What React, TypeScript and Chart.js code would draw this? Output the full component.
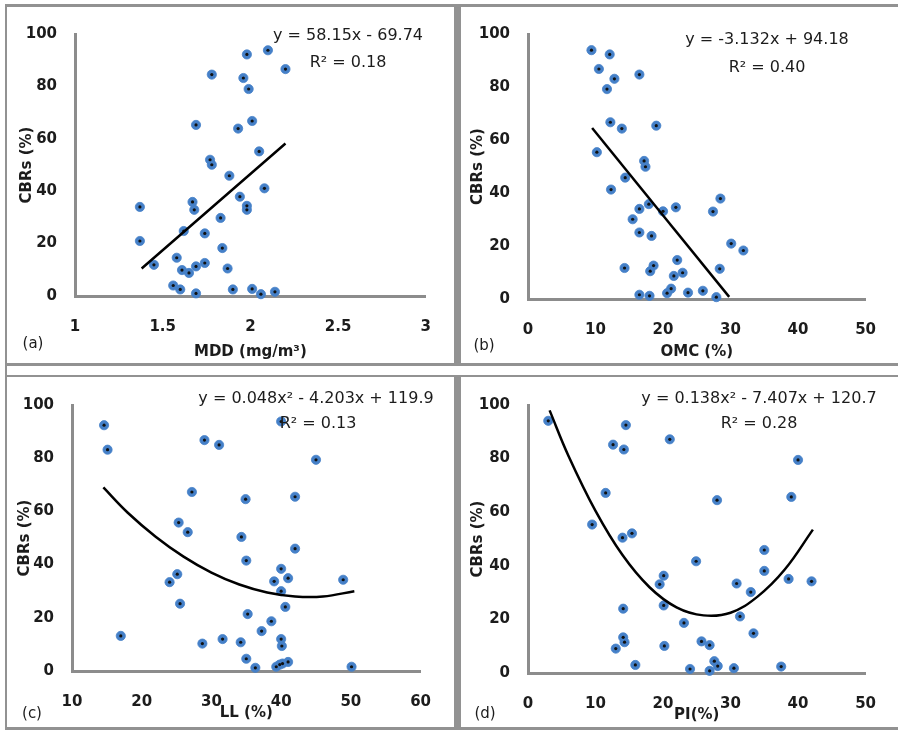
import React, { useEffect, useRef } from "react";
import { Chart, registerables } from "chart.js";
Chart.register(...registerables);

// ---------- Data ----------
const yTicks = [0, 20, 40, 60, 80, 100];

// (a) MDD vs CBRs
const mddTicks = [1, 1.5, 2, 2.5, 3];
const mddX = [1.98, 2.1, 2.2, 1.78, 1.96, 1.99, 1.69, 1.93, 2.01, 2.05, 1.77, 1.78, 1.88, 2.08, 1.94, 1.98, 1.98, 1.37, 1.67, 1.68, 1.83, 1.62, 1.74, 1.37, 1.84, 1.45, 1.58, 1.61, 1.65, 1.69, 1.74, 1.87, 1.56, 1.6, 1.69, 1.9, 2.01, 2.06, 2.14];
const mddCBR = [92.2, 93.8, 86.6, 84.5, 83.2, 79, 65.3, 63.9, 66.8, 55.2, 52, 50.1, 45.9, 41.1, 37.9, 34.4, 32.9, 34, 35.9, 32.9, 29.8, 24.8, 23.9, 21, 18.3, 11.9, 14.6, 9.9, 8.8, 11.3, 12.6, 10.5, 4, 2.5, 1, 2.5, 2.7, 0.7, 1.6];
const mddTrendX = [1.38, 2.2];
const mddTrendY = [10.5, 58.2];

// (b) OMC vs CBRs
const omcTicks = [0, 10, 20, 30, 40, 50];
const omcX = [9.4, 12.1, 10.5, 16.5, 12.8, 11.7, 12.2, 13.9, 19, 10.2, 17.2, 17.4, 14.4, 12.3, 28.5, 16.5, 17.9, 20, 21.9, 27.4, 15.5, 16.5, 18.3, 30.1, 31.9, 22.1, 14.3, 18.6, 18.1, 21.6, 22.9, 28.4, 21.2, 20.6, 16.5, 18, 23.7, 25.9, 27.9];
const omcCBR = [93.9, 92.3, 86.8, 84.7, 83.1, 79.2, 66.7, 64.3, 65.4, 55.4, 52.1, 49.9, 45.8, 41.3, 37.9, 34, 35.8, 33.1, 34.6, 33, 30.1, 25.1, 23.8, 20.9, 18.3, 14.7, 11.7, 12.6, 10.5, 8.7, 9.9, 11.4, 3.9, 2.2, 1.6, 1.2, 2.4, 3.1, 0.7];
const omcTrendX = [9.5, 29.8];
const omcTrendY = [64.5, 0.8];

// (c) LL vs CBRs
const llTicks = [10, 20, 30, 40, 50, 60];
const llX = [14.6, 15.1, 29, 31.1, 40, 45, 27.2, 34.9, 42, 25.3, 26.6, 34.3, 42, 35, 40, 41, 39, 48.9, 25.1, 24, 40, 25.5, 40.6, 35.2, 38.6, 37.2, 17, 28.7, 31.6, 34.2, 40, 40.1, 35, 36.3, 39.3, 39.8, 40.2, 41, 50.1];
const llCBR = [92.4, 83.2, 86.8, 85, 93.8, 79.4, 67.3, 64.6, 65.5, 55.8, 52.2, 50.4, 46, 41.5, 38.4, 34.9, 33.7, 34.3, 36.4, 33.4, 30, 25.3, 24.1, 21.4, 18.7, 15, 13.2, 10.3, 12, 10.8, 12, 9.4, 4.6, 1.2, 1.6, 2.4, 2.8, 3.4, 1.6];
const llTrendX = [14.5, 18, 22, 26, 30, 34, 38, 42, 46, 50.5];
const llTrendY = [69, 59.5, 50.5, 43, 37, 32.5, 29.5, 28, 28, 30];

// (d) PI vs CBRs
const piTicks = [0, 10, 20, 30, 40, 50];
const piX = [3, 14.5, 21, 12.6, 14.2, 40, 11.5, 28, 39, 9.5, 14, 15.4, 35, 24.9, 35, 20.1, 19.5, 30.9, 38.6, 42, 33, 14.1, 20.1, 31.4, 23.1, 33.4, 14.1, 14.3, 13, 20.2, 25.7, 26.9, 15.9, 24, 26.9, 27.6, 28.1, 30.5, 37.5];
const piCBR = [94.1, 92.5, 87.2, 85.2, 83.4, 79.5, 67.2, 64.5, 65.7, 55.4, 50.5, 52.1, 45.9, 41.7, 38.1, 36.3, 33.1, 33.4, 35.1, 34.2, 30.2, 24, 25.2, 21.1, 18.7, 14.8, 13.3, 11.5, 9.1, 10.1, 11.8, 10.4, 3, 1.5, 0.8, 4.4, 2.6, 1.8, 2.4];
const piTrendX = [3.2, 6, 10, 14, 18, 22, 26, 30, 34, 38, 42.2];
const piTrendY = [98, 81, 60.5, 44, 32, 24.5, 21.5, 22.5, 28.5, 38.5, 53.5];

// ---------- Styles ----------
const FONT = "'DejaVu Sans', sans-serif";
const BLUE = "#4580c8";
const AXIS = "#8c8c8c";
const FRAME = "#929292";
const TEXT = "#1c1c1c";

type Spec = {
  canvas: { x: number; y: number; w: number; h: number };
  area: { l: number; r: number; t: number; b: number };
  xMin: number; xMax: number; xTicks: number[];
  xTitle: string; xTitleY: number; yTitleX: number;
  xs: number[]; ys: number[]; tx: number[]; ty: number[];
  eq: string; eqX: number; eqY: number;
  r2: string; r2X: number; r2Y: number;
  label: string; labelX: number; labelY: number;
};

const specs: Spec[] = [
  {
    canvas: { x: 7, y: 7, w: 446, h: 356 }, area: { l: 75, r: 435, t: 27, b: 296 },
    xMin: 1, xMax: 3, xTicks: mddTicks, xTitle: "MDD (mg/m³)", xTitleY: 352, yTitleX: 27,
    xs: mddX, ys: mddCBR, tx: mddTrendX, ty: mddTrendY,
    eq: "y = 58.15x - 69.74", eqX: 348, eqY: 35, r2: "R² = 0.18", r2X: 348, r2Y: 62,
    label: "(a)", labelX: 33, labelY: 343,
  },
  {
    canvas: { x: 461, y: 7, w: 437, h: 356 }, area: { l: 528, r: 880, t: 27, b: 299 },
    xMin: 0, xMax: 50, xTicks: omcTicks, xTitle: "OMC (%)", xTitleY: 352, yTitleX: 478,
    xs: omcX, ys: omcCBR, tx: omcTrendX, ty: omcTrendY,
    eq: "y = -3.132x + 94.18", eqX: 767, eqY: 39, r2: "R² = 0.40", r2X: 767, r2Y: 67,
    label: "(b)", labelX: 484, labelY: 345,
  },
  {
    canvas: { x: 7, y: 378, w: 446, h: 349 }, area: { l: 72, r: 421, t: 393, b: 671 },
    xMin: 10, xMax: 60, xTicks: llTicks, xTitle: "LL (%)", xTitleY: 713, yTitleX: 25,
    xs: llX, ys: llCBR, tx: llTrendX, ty: llTrendY,
    eq: "y = 0.048x² - 4.203x + 119.9", eqX: 316, eqY: 398, r2: "R² = 0.13", r2X: 318, r2Y: 423,
    label: "(c)", labelX: 32, labelY: 713,
  },
  {
    canvas: { x: 461, y: 378, w: 437, h: 349 }, area: { l: 528, r: 875, t: 392, b: 673 },
    xMin: 0, xMax: 50, xTicks: piTicks, xTitle: "PI(%)", xTitleY: 715, yTitleX: 478,
    xs: piX, ys: piCBR, tx: piTrendX, ty: piTrendY,
    eq: "y = 0.138x² - 7.407x + 120.7", eqX: 759, eqY: 398, r2: "R² = 0.28", r2X: 759, r2Y: 423,
    label: "(d)", labelX: 485, labelY: 713,
  },
];

function Panel({ spec }: { spec: Spec }) {
  const ref = useRef<HTMLCanvasElement>(null);
  useEffect(() => {
    const el = ref.current;
    if (!el) return;
    const { canvas, area } = spec;
    const W = 60;
    const H = canvas.y + canvas.h - area.b;
    const pts = spec.xs.map((x, i) => ({ x, y: spec.ys[i] }));
    const trend = spec.tx.map((x, i) => ({ x, y: spec.ty[i] }));
    const tickFont = { family: FONT, size: 15, weight: "bold" as const };
    const titleFont = { family: FONT, size: 15, weight: "bold" as const };
    const chart = new Chart(el, {
      type: "scatter",
      data: {
        datasets: [
          {
            label: "Trendline", data: trend, showLine: true, borderColor: "#000",
            borderWidth: 2.5, pointRadius: 0, tension: 0.4, clip: false, fill: false,
          } as any,
          {
            label: "centre", data: pts, pointRadius: 1.6, pointBackgroundColor: "#111",
            pointBorderWidth: 0, clip: false,
          } as any,
          {
            label: "CBRs", data: pts, pointRadius: 4.6, pointBackgroundColor: BLUE,
            pointBorderColor: BLUE, pointBorderWidth: 0.8, clip: false,
          } as any,
        ],
      },
      options: {
        animation: false,
        responsive: false,
        events: [],
        layout: {
          padding: {
            left: area.l - canvas.x - W,
            top: area.t - canvas.y,
            right: canvas.x + canvas.w - area.r,
            bottom: 0,
          },
        },
        plugins: { legend: { display: false }, tooltip: { enabled: false } },
        scales: {
          x: {
            type: "linear", min: spec.xMin, max: spec.xMax,
            afterFit: (s: any) => { s.height = H; },
            afterBuildTicks: (s: any) => { s.ticks = spec.xTicks.map((v) => ({ value: v })); },
            grid: { display: false, drawTicks: false },
            border: { display: true, color: AXIS, width: 3 },
            ticks: { padding: 22, color: TEXT, font: tickFont, callback: (v: any) => String(v) },
            title: {
              display: true, text: spec.xTitle, color: TEXT, font: titleFont,
              padding: { top: 0, bottom: canvas.y + canvas.h - 9 - spec.xTitleY },
            },
          },
          y: {
            type: "linear", min: 0, max: 100,
            afterFit: (s: any) => { s.width = W; },
            afterBuildTicks: (s: any) => { s.ticks = yTicks.map((v) => ({ value: v })); },
            grid: { display: false, drawTicks: false },
            border: { display: true, color: AXIS, width: 3 },
            ticks: { padding: 18, color: TEXT, font: tickFont, callback: (v: any) => String(v) },
            title: {
              display: true, text: "CBRs (%)", color: TEXT, font: titleFont,
              padding: { top: spec.yTitleX - area.l + W - 9, bottom: 0 },
            },
          },
        },
      } as any,
    });
    return () => chart.destroy();
  }, [spec]);

  const txt = (s: string, x: number, y: number, size: number, key: string) => (
    <div
      key={key}
      style={{
        position: "absolute", left: x, top: y, transform: "translate(-50%, -50%)",
        whiteSpace: "nowrap", fontFamily: FONT, fontSize: size, color: TEXT, lineHeight: 1,
      }}
    >
      {s}
    </div>
  );

  return (
    <>
      <canvas
        ref={ref}
        width={spec.canvas.w}
        height={spec.canvas.h}
        style={{ position: "absolute", left: spec.canvas.x, top: spec.canvas.y, width: spec.canvas.w, height: spec.canvas.h }}
      />
      {txt(spec.eq, spec.eqX, spec.eqY, 16, "eq")}
      {txt(spec.r2, spec.r2X, spec.r2Y, 16, "r2")}
      {txt(spec.label, spec.labelX, spec.labelY, 15, "lb")}
    </>
  );
}

const bar = (l: number, t: number, w: number, h: number, key: string) => (
  <div key={key} style={{ position: "absolute", left: l, top: t, width: w, height: h, background: FRAME }} />
);

export default function App() {
  return (
    <div style={{ position: "fixed", left: 0, top: 0, width: 898, height: 733, background: "#fff", overflow: "hidden" }}>
      {bar(5, 4, 893, 3, "top")}
      {bar(5, 4, 2, 726, "left")}
      {bar(5, 727, 893, 3, "bottom")}
      {bar(5, 363, 893, 3, "mid1")}
      {bar(5, 375, 893, 2, "mid2")}
      {bar(454, 4, 7, 362, "v1")}
      {bar(454, 375, 7, 355, "v2")}
      {specs.map((s, i) => (
        <Panel key={i} spec={s} />
      ))}
    </div>
  );
}
